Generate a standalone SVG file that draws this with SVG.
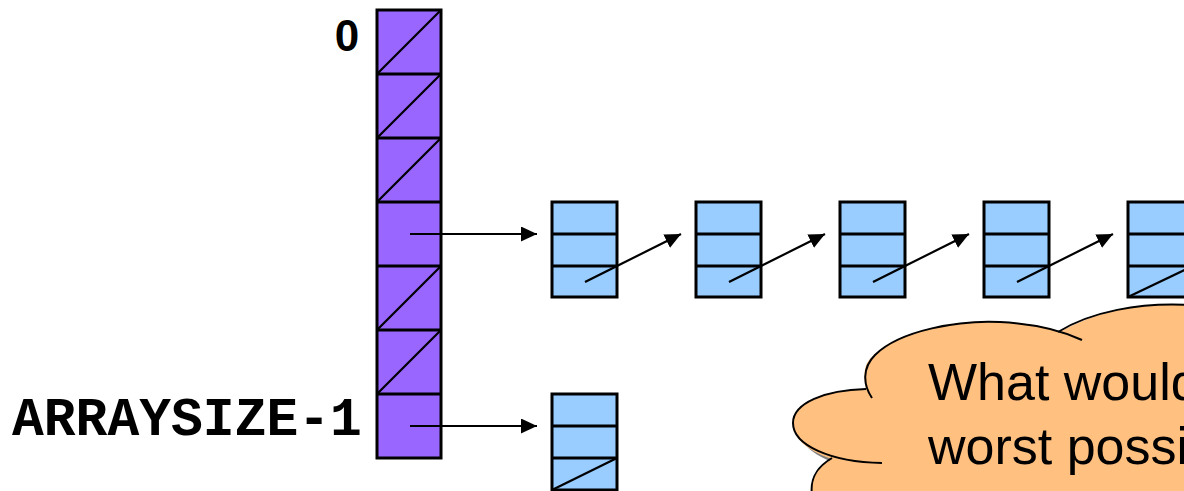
<svg xmlns="http://www.w3.org/2000/svg" width="1184" height="491" viewBox="0 0 1184 491">
<style>
.cell{fill:#9966FF;stroke:#000;stroke-width:3}
.bn{fill:#99CCFF;stroke:#000;stroke-width:3}
.ln{stroke:#000;stroke-width:2.2;fill:none}
.dv{stroke:#000;stroke-width:3;fill:none}
.lbl{font-family:"Liberation Sans",Arial,sans-serif;fill:#000}
.mono{font-family:"Liberation Mono","Courier New",monospace;font-weight:bold;fill:#000}
.cl{fill:none;stroke:#000;stroke-width:2}
</style>
<defs>
<marker id="ah" markerUnits="userSpaceOnUse" markerWidth="17" markerHeight="16" refX="16" refY="7.5" orient="auto">
<path d="M0,0 L16,7.5 L0,15 Z" fill="#000"/>
</marker>
<path id="cloudShape" d="M812,495 C810,480 815,468 832,459 C805,450 793,437 793,423 C793,403 825,390 866,389 C862,370 866,360 875,355 C900,330 960,320 1000,322 C1030,323 1050,327 1060,332 C1095,312 1140,302 1190,305 L1190,495 Z"/>
</defs>
<rect width="1184" height="491" fill="#fff"/>

<g id="array">
<rect class="cell" x="377" y="10" width="64" height="448"/>
<path class="dv" d="M377,74H441M377,138H441M377,202H441M377,266H441M377,330H441M377,394H441"/>
<path class="ln" d="M377,74L441,10M377,138L441,74M377,202L441,138M377,330L441,266M377,394L441,330"/>
</g>

<g id="label-0"><text class="lbl" x="347" y="51" font-size="44" font-weight="600" text-anchor="middle">0</text></g>
<g id="label-arraysize"><text class="mono" x="12" y="435" font-size="53">ARRAYSIZE-1</text></g>

<g id="node1"><rect class="bn" x="552" y="202" width="65" height="95"/><path class="dv" d="M552,234H617M552,266H617"/></g>
<g id="node2"><rect class="bn" x="696" y="202" width="65" height="95"/><path class="dv" d="M696,234H761M696,266H761"/></g>
<g id="node3"><rect class="bn" x="840" y="202" width="65" height="95"/><path class="dv" d="M840,234H905M840,266H905"/></g>
<g id="node4"><rect class="bn" x="984" y="202" width="65" height="95"/><path class="dv" d="M984,234H1049M984,266H1049"/></g>
<g id="node5"><rect class="bn" x="1128" y="202" width="65" height="95"/><path class="dv" d="M1128,234H1193M1128,266H1193"/><path class="ln" d="M1128,297L1193,266"/></g>
<g id="node6"><rect class="bn" x="552" y="394" width="65" height="96"/><path class="dv" d="M552,426H617M552,458H617"/><path class="ln" d="M552,490L617,458"/></g>

<g id="connectors">
<path class="ln" d="M410,234H537" marker-end="url(#ah)"/>
<path class="ln" d="M410,426H537" marker-end="url(#ah)"/>
<path class="ln" d="M585,282L681,234" marker-end="url(#ah)"/>
<path class="ln" d="M729,282L825,234" marker-end="url(#ah)"/>
<path class="ln" d="M873,282L969,234" marker-end="url(#ah)"/>
<path class="ln" d="M1017,282L1113,234" marker-end="url(#ah)"/>
</g>

<g id="cloud">
<use href="#cloudShape" transform="translate(6,5)" fill="#808080"/>
<use href="#cloudShape" fill="#FFC080"/>
<path class="cl" d="M866,389 C825,390 793,403 793,423 C793,445 830,462 882,463"/>
<path class="cl" d="M872,398 C863,385 862,368 875,355 C900,330 960,320 1000,322 C1040,324 1065,332 1082,340"/>
<path class="cl" d="M1058,332 C1090,312 1140,302 1190,305"/>
<path class="cl" d="M832,458 C815,468 810,480 812,495"/>
<text class="lbl" x="928" y="400" font-size="52">What would</text>
<text class="lbl" x="928" y="464" font-size="52">worst possi</text>
</g>
</svg>
